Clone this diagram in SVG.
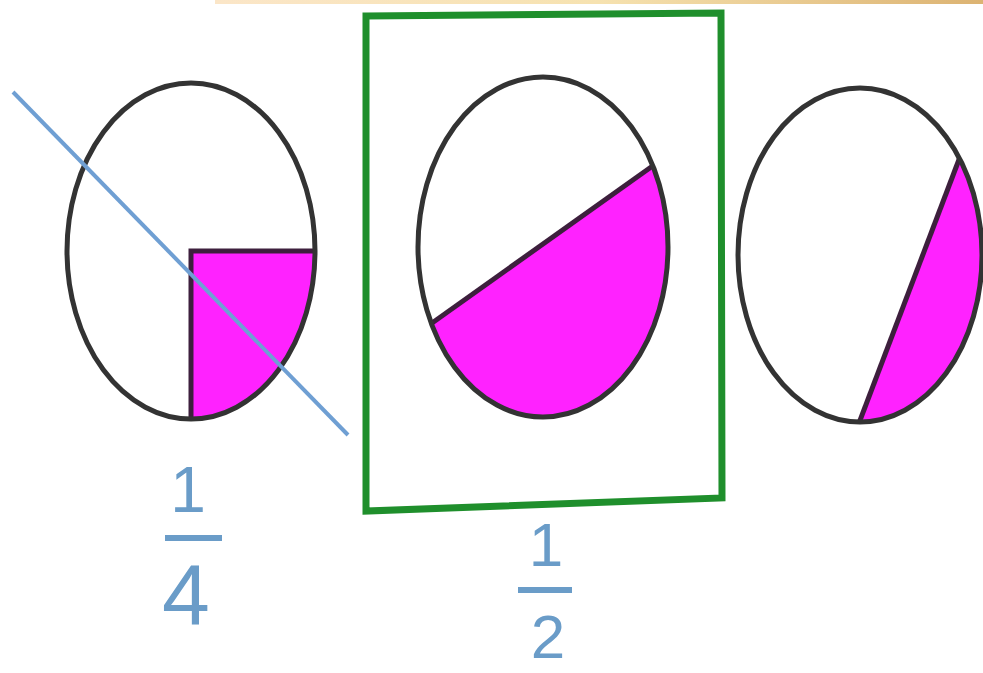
<svg xmlns="http://www.w3.org/2000/svg" width="983" height="673" viewBox="0 0 983 673">
<style>
.oval{fill:none;stroke:#333;stroke-width:5}
.fill{fill:#ff22ff}
.cut{stroke:#3d1f3d;stroke-width:5;fill:none}
.num{font-family:"Liberation Sans",Arial,sans-serif;fill:#6a9cc8;text-anchor:middle}
.bar{stroke:#6a9cc8;stroke-width:6}
</style>
<defs>
<linearGradient id="strip" x1="0" x2="1" y1="0" y2="0">
<stop offset="0" stop-color="#fbe6c8"/>
<stop offset="0.5" stop-color="#f6e2b0"/>
<stop offset="1" stop-color="#dcb372"/>
</linearGradient>
<clipPath id="c1"><ellipse cx="191" cy="251" rx="124" ry="168"/></clipPath>
<clipPath id="c2"><ellipse cx="543" cy="247" rx="125" ry="170"/></clipPath>
<clipPath id="c3"><ellipse cx="860" cy="255" rx="122" ry="167"/></clipPath>
</defs>
<rect width="983" height="673" fill="#fff"/>
<rect x="215" y="0" width="768" height="4" fill="url(#strip)"/>
<g id="frame">
<path d="M366 16 L721 13 L722 498 L366 511 Z" fill="none" stroke="#1f8f2c" stroke-width="7"/>
</g>
<g id="oval-quarter">
<g clip-path="url(#c1)">
<rect class="fill" x="191" y="251" width="140" height="180"/>
<path class="cut" d="M191 430 L191 251 L330 251"/>
</g>
<ellipse class="oval" cx="191" cy="251" rx="124" ry="168"/>
</g>
<g id="oval-half">
<g clip-path="url(#c2)">
<path class="fill" d="M380 360 L720 118 L720 430 L380 430 Z"/>
<path class="cut" d="M380 360 L720 118"/>
</g>
<ellipse class="oval" cx="543" cy="247" rx="125" ry="170" stroke-width="6"/>
</g>
<g id="oval-sliver">
<g clip-path="url(#c3)">
<path class="fill" d="M974 120 L848 452 L990 452 L990 120 Z"/>
<path class="cut" d="M974 120 L848 452"/>
</g>
<ellipse class="oval" cx="860" cy="255" rx="122" ry="167"/>
</g>
<g id="connectors">
<line x1="13" y1="92" x2="348" y2="435" stroke="#6f9fd3" stroke-width="4"/>
</g>
<g id="label-quarter">
<text class="num" x="188" y="512" font-size="64">1</text>
<line class="bar" x1="165" y1="538" x2="222" y2="538"/>
<text class="num" x="186" y="624" font-size="86">4</text>
</g>
<g id="label-half">
<text class="num" x="546" y="566" font-size="62">1</text>
<line class="bar" x1="518" y1="590" x2="572" y2="590"/>
<text class="num" x="548" y="658" font-size="62">2</text>
</g>
</svg>
